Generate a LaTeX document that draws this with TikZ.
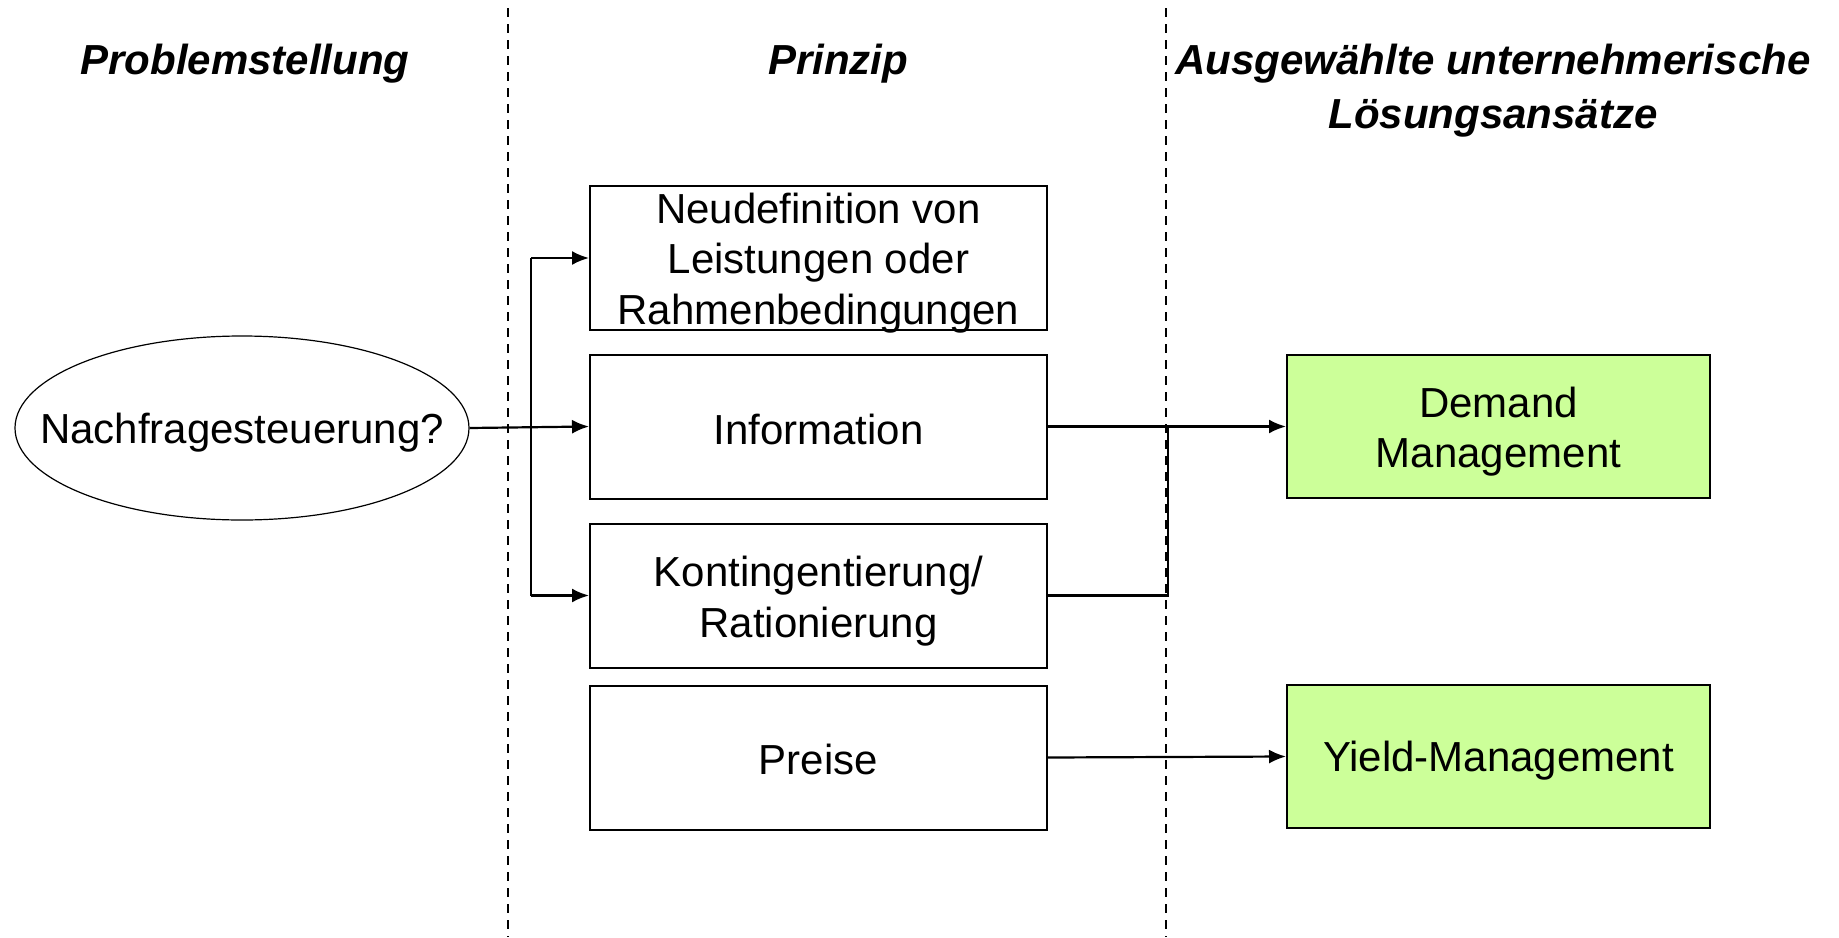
\documentclass[tikz,border=0pt]{standalone}
\usepackage{fontspec}
\setmainfont{Liberation Sans}
\usetikzlibrary{shapes.geometric,arrows.meta}
\begin{document}
\begin{tikzpicture}[x=1pt,y=-1pt,
  every node/.style={font=\fontsize{42}{50.5}\selectfont, align=center, inner sep=0pt},
  title/.style={font=\fontsize{42}{54}\selectfont\bfseries\itshape},
  pbox/.style={draw, line width=2pt, minimum width=457pt, minimum height=144pt},
  gbox/.style={draw, line width=2pt, fill=gfill, minimum width=423pt, minimum height=143pt},
  conn/.style={line width=2.2pt},
  arr/.style={conn, -{Latex[length=17pt,width=14pt]}},
  sep/.style={line width=1.5pt, dash pattern=on 9pt off 7pt}]
\definecolor{gfill}{HTML}{CCFF99}
\useasboundingbox (0,0) rectangle (1839,937);
% separators
\coordinate (s1t) at (508,8); \coordinate (s1b) at (508,937);
\coordinate (s2t) at (1166,8); \coordinate (s2b) at (1166,937);
\draw[sep] (s1t) -- (s1b);
\draw[sep] (s2t) -- (s2b);
% titles
\node[title] (t1) at (245,64) {Problemstellung};
\node[title] (t2) at (838,64) {Prinzip};
\node[title] (t3) at (1493,91) {Ausgewählte unternehmerische\\Lösungsansätze};
% shapes
\node[draw, ellipse, line width=1.2pt, minimum width=454pt, minimum height=184pt] (ell) at (242,428) {};
\node[pbox] (b1) at (818.5,258) {};
\node[pbox] (b2) at (818.5,426.5) {};
\node[pbox] (b3) at (818.5,595.5) {};
\node[pbox] (b4) at (818.5,757.5) {};
\node[gbox] (g1) at (1498.5,426.5) {};
\node[gbox] (g2) at (1498.5,756.5) {};
% texts
\node (ellt) at (242,433) {Nachfragesteuerung?};
\node (b1t) at (818.5,263) {Neudefinition von\\Leistungen oder\\Rahmenbedingungen};
\node (b2t) at (818.5,429.5) {Information};
\node (b3t) at (818.5,601) {Kontingentierung/\\Rationierung};
\node (b4t) at (818.5,759) {Preise};
\node (g1t) at (1498.5,431.5) {Demand\\Management};
\node (g2t) at (1498.5,761) {Yield-Management};
% connectors
\coordinate (bt) at (531,258);
\coordinate (bb) at (531,595.5);
\coordinate (m) at (1168,426.5);
\coordinate (mb) at (1168,595.5);
\draw[arr] (ell.east) -- (b2.west);
\draw[conn] (bt) -- (bb);
\draw[arr] (bt) -- (b1.west);
\draw[arr] (bb) -- (b3.west);
\draw[arr] (b2.east) -- (g1.west);
\draw[conn] (b3.east) -- (mb) -- (m);
\draw[arr] (b4.east) -- (g2.west);
\end{tikzpicture}
\end{document}
